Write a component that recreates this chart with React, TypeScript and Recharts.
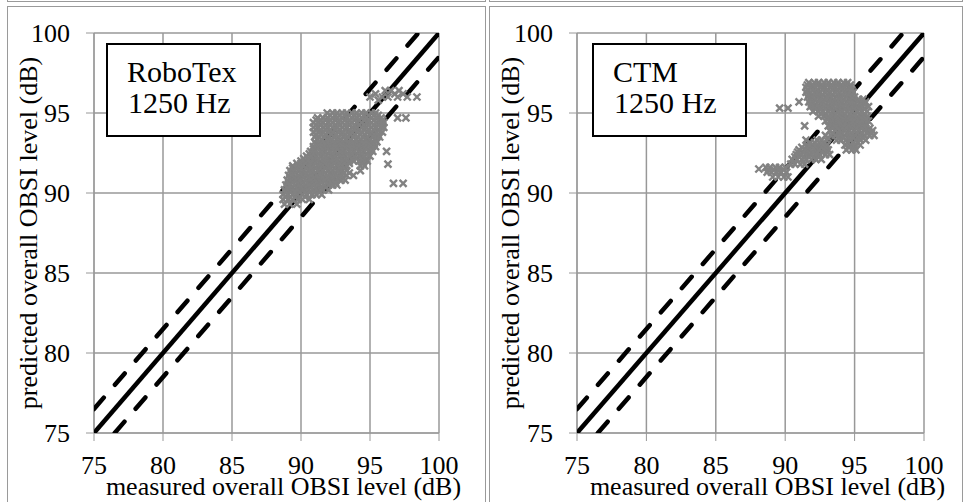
import { CartesianGrid, ComposedChart, Label, Scatter, XAxis, YAxis } from 'recharts';

const axisTicks = [75, 80, 85, 90, 95, 100];

// 1:1 line and the +/-1.5 dB band
const parityLine = [{ x: 75, y: 75 }, { x: 100, y: 100 }];
const upperBand = [{ x: 75, y: 76.5 }, { x: 98.5, y: 100 }];
const lowerBand = [{ x: 76.5, y: 75 }, { x: 100, y: 98.5 }];

const robotexRows: [number, number[]][] = [
  [96.4, [96.1, 96.5, 97.1]],
  [96.2, [95.4, 96.8, 97.4]],
  [96.0, [95.0, 95.9, 96.3, 97.0, 97.7, 98.4]],
  [95.8, [95.6]],
  [95.0, [91.9, 92.3, 92.6, 93.0, 93.3, 93.7, 94.0, 94.4, 94.7, 95.1, 95.4]],
  [94.85, [92.1, 92.5, 92.8, 93.2, 93.5, 93.9, 94.2, 94.6, 94.9, 95.3, 95.6]],
  [94.7, [91.2, 91.6, 91.9, 92.3, 92.6, 93.0, 93.3, 93.7, 94.0, 94.4, 94.7, 95.1, 95.5, 95.8, 97.0, 97.6]],
  [94.55, [91.1, 91.4, 91.8, 92.1, 92.5, 92.8, 93.2, 93.5, 93.9, 94.2, 94.6, 94.9, 95.3, 95.6, 95.9]],
  [94.4, [90.9, 91.3, 91.6, 92.0, 92.3, 92.7, 93.0, 93.4, 93.7, 94.1, 94.4, 94.8, 95.1, 95.5, 95.8, 96.0]],
  [94.25, [91.1, 91.4, 91.8, 92.1, 92.5, 92.8, 93.2, 93.5, 93.9, 94.2, 94.6, 94.9, 95.3, 95.6, 95.9]],
  [94.1, [90.9, 91.2, 91.6, 91.9, 92.3, 92.6, 93.0, 93.3, 93.7, 94.0, 94.4, 94.7, 95.1, 95.4, 95.8, 96.0]],
  [93.95, [91.1, 91.4, 91.8, 92.1, 92.5, 92.8, 93.2, 93.5, 93.9, 94.2, 94.6, 94.9, 95.3, 95.6]],
  [93.8, [90.9, 91.3, 91.6, 92.0, 92.3, 92.7, 93.0, 93.4, 93.7, 94.1, 94.4, 94.8, 95.1, 95.5, 95.9]],
  [93.65, [91.1, 91.5, 91.8, 92.2, 92.5, 92.9, 93.2, 93.6, 93.9, 94.3, 94.6, 95.0, 95.3, 95.6]],
  [93.5, [91.0, 91.3, 91.7, 92.0, 92.4, 92.7, 93.1, 93.4, 93.8, 94.1, 94.5, 94.8, 95.2, 95.5, 95.7]],
  [93.35, [91.2, 91.5, 91.9, 92.2, 92.6, 92.9, 93.3, 93.6, 94.0, 94.3, 94.7, 95.0, 95.4]],
  [93.2, [91.0, 91.4, 91.7, 92.1, 92.4, 92.8, 93.1, 93.5, 93.8, 94.2, 94.5, 94.9, 95.2, 95.5]],
  [93.05, [91.1, 91.4, 91.8, 92.1, 92.5, 92.8, 93.2, 93.5, 93.9, 94.2, 94.6, 94.9, 95.3]],
  [92.9, [90.9, 91.2, 91.6, 91.9, 92.3, 92.6, 93.0, 93.3, 93.7, 94.0, 94.4, 94.7, 95.1, 95.4]],
  [92.75, [90.9, 91.2, 91.6, 91.9, 92.3, 92.6, 93.0, 93.3, 93.7, 94.0, 94.4, 94.7, 95.1]],
  [92.6, [90.7, 91.0, 91.4, 91.7, 92.1, 92.4, 92.8, 93.1, 93.5, 93.8, 94.2, 94.5, 94.9, 95.2, 96.2]],
  [92.45, [90.6, 90.9, 91.3, 91.6, 92.0, 92.3, 92.7, 93.0, 93.4, 93.7, 94.1, 94.4, 94.8]],
  [92.3, [90.4, 90.8, 91.1, 91.5, 91.8, 92.2, 92.5, 92.9, 93.2, 93.6, 93.9, 94.3, 94.6, 95.0]],
  [92.15, [90.2, 90.5, 90.9, 91.2, 91.6, 91.9, 92.3, 92.6, 93.0, 93.3, 93.7, 94.0, 94.4, 94.7]],
  [92.0, [90.0, 90.3, 90.7, 91.0, 91.4, 91.7, 92.1, 92.4, 92.8, 93.1, 93.5, 93.8, 94.2, 94.5, 94.8]],
  [91.85, [89.7, 90.0, 90.3, 90.7, 91.0, 91.4, 91.7, 92.1, 92.4, 92.8, 93.1, 93.5, 94.5]],
  [91.8, [96.3]],
  [91.7, [89.4, 89.8, 90.1, 90.5, 90.8, 91.2, 91.5, 91.9, 92.2, 92.6, 92.9, 93.3, 94.3, 94.6]],
  [91.55, [89.4, 89.7, 90.0, 90.4, 90.7, 91.1, 91.4, 91.8, 92.1, 92.5, 92.8, 93.2]],
  [91.4, [89.2, 89.5, 89.9, 90.2, 90.6, 90.9, 91.3, 91.6, 92.0, 92.3, 92.7, 93.0, 93.3, 94.3]],
  [91.25, [89.3, 89.6, 90.0, 90.3, 90.7, 91.0, 91.4, 91.7, 92.1, 92.4, 92.8, 93.1, 93.5]],
  [91.1, [89.1, 89.4, 89.8, 90.1, 90.5, 90.8, 91.2, 91.5, 91.9, 92.2, 92.6, 92.9, 93.3, 93.8]],
  [90.95, [89.2, 89.5, 89.9, 90.2, 90.6, 90.9, 91.3, 91.6, 92.0, 92.3, 92.7, 93.0]],
  [90.8, [89.0, 89.3, 89.7, 90.0, 90.4, 90.7, 91.1, 91.4, 91.8, 92.1, 92.5, 92.9, 93.2]],
  [90.65, [89.1, 89.4, 89.8, 90.1, 90.5, 90.8, 91.2, 91.5, 91.9, 92.2, 92.5]],
  [90.6, [96.7, 97.4]],
  [90.5, [88.9, 89.2, 89.6, 89.9, 90.3, 90.6, 91.0, 91.3, 91.7, 92.0, 92.3, 92.6]],
  [90.35, [89.0, 89.3, 89.7, 90.0, 90.4, 90.7, 91.1, 91.4, 91.8]],
  [90.2, [88.8, 89.1, 89.5, 89.8, 90.2, 90.5, 90.9, 91.2, 91.6, 92.0]],
  [90.05, [88.9, 89.2, 89.6, 89.9, 90.3, 90.6, 91.0, 91.3]],
  [89.9, [88.7, 89.0, 89.4, 89.7, 90.1, 90.4, 90.8, 91.1, 91.5]],
  [89.75, [88.9, 89.2, 89.6, 89.9, 90.3]],
  [89.6, [88.7, 89.1, 89.4, 89.8, 90.1, 90.6]],
  [89.3, [88.8, 89.2, 89.7]],
];

// CTM
const ctmRows: [number, number[]][] = [
  [96.9, [91.7, 92.1, 92.4, 92.8, 93.1, 93.5, 93.8, 94.2, 94.5]],
  [96.75, [91.6, 92.0, 92.3, 92.7, 93.0, 93.4, 93.7, 94.1, 94.4, 94.7]],
  [96.6, [91.5, 91.9, 92.2, 92.6, 92.9, 93.3, 93.6, 94.0, 94.3, 94.7]],
  [96.45, [91.6, 92.0, 92.3, 92.7, 93.0, 93.4, 93.7, 94.1, 94.4, 94.8]],
  [96.3, [91.5, 91.8, 92.2, 92.5, 92.9, 93.2, 93.6, 93.9, 94.3, 94.6, 94.9]],
  [96.15, [91.7, 92.0, 92.4, 92.7, 93.1, 93.4, 93.8, 94.1, 94.5, 94.8]],
  [96.0, [91.6, 91.9, 92.3, 92.6, 93.0, 93.3, 93.7, 94.0, 94.4, 94.7, 95.0]],
  [95.85, [91.8, 92.1, 92.5, 92.8, 93.2, 93.5, 93.9, 94.2, 94.6, 94.9, 95.3, 95.6]],
  [95.7, [91.0, 91.7, 92.0, 92.4, 92.7, 93.1, 93.4, 93.8, 94.1, 94.5, 94.8, 95.2, 95.5, 95.8]],
  [95.55, [91.9, 92.2, 92.6, 92.9, 93.3, 93.6, 94.0, 94.3, 94.7, 95.0, 95.4, 95.7]],
  [95.4, [91.8, 92.1, 92.5, 92.8, 93.2, 93.5, 93.9, 94.2, 94.6, 94.9, 95.3, 95.6, 96.0]],
  [95.3, [89.6, 90.2]],
  [95.25, [92.2, 92.5, 92.9, 93.2, 93.6, 93.9, 94.3, 94.6, 95.0, 95.3, 95.7]],
  [95.1, [92.0, 92.4, 92.7, 93.1, 93.4, 93.8, 94.1, 94.5, 94.8, 95.2, 95.5, 95.9]],
  [94.95, [92.6, 92.9, 93.3, 93.6, 94.0, 94.3, 94.7, 95.0, 95.4, 95.7]],
  [94.8, [92.4, 92.8, 93.1, 93.5, 93.8, 94.2, 94.5, 94.9, 95.2, 95.6, 95.9]],
  [94.65, [93.1, 93.4, 93.8, 94.1, 94.5, 94.8, 95.2, 95.5, 95.8]],
  [94.5, [92.9, 93.3, 93.6, 94.0, 94.3, 94.7, 95.0, 95.4, 95.7, 96.0]],
  [94.35, [93.3, 93.6, 94.0, 94.3, 94.7, 95.0, 95.4, 95.7]],
  [94.2, [91.4, 93.1, 93.4, 93.8, 94.1, 94.5, 94.8, 95.2, 95.5, 95.8]],
  [94.05, [93.4, 93.7, 94.1, 94.4, 94.8, 95.1, 95.5, 95.8, 96.1]],
  [93.9, [93.2, 93.6, 93.9, 94.3, 94.6, 95.0, 95.3, 95.7, 96.0, 96.3]],
  [93.75, [93.4, 93.8, 94.1, 94.5, 94.8, 95.2, 95.5, 95.9, 96.2]],
  [93.6, [92.9, 93.3, 93.6, 94.0, 94.3, 94.7, 95.0, 95.4, 95.7, 96.1, 96.4]],
  [93.45, [93.1, 93.9, 94.2, 94.6, 94.9, 95.3, 95.6]],
  [93.3, [91.5, 92.3, 92.6, 93.0, 93.7, 94.0, 94.4, 94.7, 95.1, 95.4, 95.8]],
  [93.15, [91.8, 92.1, 92.5, 92.8, 94.5, 94.9, 95.2]],
  [93.0, [91.6, 92.0, 92.3, 92.7, 93.0, 94.3, 94.7, 95.0, 95.4]],
  [92.85, [91.2, 91.6, 91.9, 92.3, 92.6, 92.9, 94.6, 95.0]],
  [92.7, [91.0, 91.4, 91.7, 92.1, 92.4, 92.8, 93.1, 94.4, 94.8, 95.1]],
  [92.55, [90.9, 91.3, 91.6, 92.0, 92.3, 92.7, 93.0]],
  [92.4, [90.8, 91.1, 91.5, 91.8, 92.2, 92.5, 92.9, 93.2]],
  [92.25, [90.7, 91.0, 91.4, 91.7, 92.1, 92.4]],
  [92.1, [90.5, 90.8, 91.2, 91.5, 91.9, 92.2, 92.6]],
  [91.8, [90.4, 90.7, 91.1, 91.4]],
  [91.6, [88.6, 88.9, 89.3, 89.6, 90.0]],
  [91.5, [88.1]],
  [91.45, [88.8, 89.2, 89.5, 89.9]],
  [91.3, [88.7, 89.0, 89.4, 89.7, 90.1]],
  [91.0, [89.1, 89.5, 89.9, 90.2]],
];

const serif = '"Liberation Serif", "Times New Roman", serif';
const gridGray = '#989898';
const markerGray = '#828282';

const toPoints = (rows: [number, number[]][]) =>
  rows.flatMap(([y, xs]) => xs.map((x) => ({ x, y })));

const CrossMark = (props: any) => {
  const { cx, cy } = props;
  if (cx == null || cy == null) return null;
  const r = 3.5;
  return (
    <path
      d={`M${cx - r},${cy - r}L${cx + r},${cy + r}M${cx - r},${cy + r}L${cx + r},${cy - r}`}
      stroke={markerGray}
      strokeWidth={2.4}
    />
  );
};

const NoMark = () => <g />;

interface PanelProps {
  rows: [number, number[]][];
  title: string;
  left: number;
  yAxisWidth: number;
  marginRight: number;
  boxX: number;
}

const dashed = { stroke: '#000', strokeWidth: 4.5, strokeDasharray: '15 17', strokeLinecap: 'round' as const };

const Panel = ({ rows, title, left, yAxisWidth, marginRight, boxX }: PanelProps) => {
  const points = toPoints(rows);
  return (
    <div style={{ position: 'absolute', left, top: 0, width: 482, height: 502 }}>
      <ComposedChart width={482} height={502} margin={{ top: 33, right: marginRight, bottom: 0, left: 0 }}>
        <CartesianGrid stroke={gridGray} strokeWidth={1.5} />
        <XAxis
          type="number"
          dataKey="x"
          domain={[75, 100]}
          ticks={axisTicks}
          interval={0}
          allowDataOverflow
          height={69}
          tickSize={8}
          tickMargin={15}
          stroke={gridGray}
          tick={{ fill: '#000', fontSize: 26, fontFamily: serif }}
        >
          <Label
            content={(p: any) => {
              const vb = p.viewBox ?? { x: yAxisWidth, y: 433, width: 345 };
              return (
                <text x={vb.x + vb.width / 2 + 17} y={vb.y + 62} textAnchor="middle" fontSize={26} fontFamily={serif} fill="#000">
                  measured overall OBSI level (dB)
                </text>
              );
            }}
          />
        </XAxis>
        <YAxis
          type="number"
          dataKey="y"
          domain={[75, 100]}
          ticks={axisTicks}
          interval={0}
          allowDataOverflow
          width={yAxisWidth}
          tickSize={8}
          tickMargin={16}
          stroke={gridGray}
          tick={{ fill: '#000', fontSize: 26, fontFamily: serif }}
        >
          <Label
            content={(p: any) => {
              const vb = p.viewBox ?? { x: 0, y: 33, height: 400 };
              const cy = vb.y + vb.height / 2;
              return (
                <text transform={`translate(${vb.x + 37}, ${cy}) rotate(-90)`} textAnchor="middle" fontSize={26} fontFamily={serif} fill="#000">
                  predicted overall OBSI level (dB)
                </text>
              );
            }}
          />
        </YAxis>
        <Scatter data={upperBand} dataKey="y" shape={NoMark} line={dashed} isAnimationActive={false} />
        <Scatter data={lowerBand} dataKey="y" shape={NoMark} line={dashed} isAnimationActive={false} />
        <Scatter data={parityLine} dataKey="y" shape={NoMark} line={{ stroke: '#000', strokeWidth: 4.5 }} isAnimationActive={false} />
        <Scatter data={points} dataKey="y" shape={CrossMark} isAnimationActive={false} />
      </ComposedChart>
      <svg width={482} height={502} style={{ position: 'absolute', left: 0, top: 0, pointerEvents: 'none' }}>
        <rect x={boxX + 1} y={44} width={153} height={92} fill="#fff" stroke="#000" strokeWidth={2} />
        <text x={boxX + 21} y={82} fontSize={30} fontFamily={serif} fill="#000">{title}</text>
        <text x={boxX + 22} y={113} fontSize={30} fontFamily={serif} fill="#000">1250 Hz</text>
      </svg>
    </div>
  );
};

const cellBorder = '1px solid #9a9a9a';

export default function App() {
  return (
    <div style={{ position: 'absolute', left: 0, top: 0, width: 964, height: 502, overflow: 'hidden', background: '#fff' }}>
      <div style={{ position: 'absolute', left: 7, top: -10, width: 477, height: 10, border: cellBorder }} />
      <div style={{ position: 'absolute', left: 489, top: -10, width: 472, height: 10, border: cellBorder }} />
      <div style={{ position: 'absolute', left: 7, top: 6, width: 477, height: 600, border: cellBorder }} />
      <div style={{ position: 'absolute', left: 489, top: 6, width: 472, height: 600, border: cellBorder }} />
      <Panel rows={robotexRows} title="RoboTex" left={0} yAxisWidth={94} marginRight={43} boxX={106} />
      <Panel rows={ctmRows} title="CTM" left={482} yAxisWidth={95} marginRight={40} boxX={110} />
    </div>
  );
}
